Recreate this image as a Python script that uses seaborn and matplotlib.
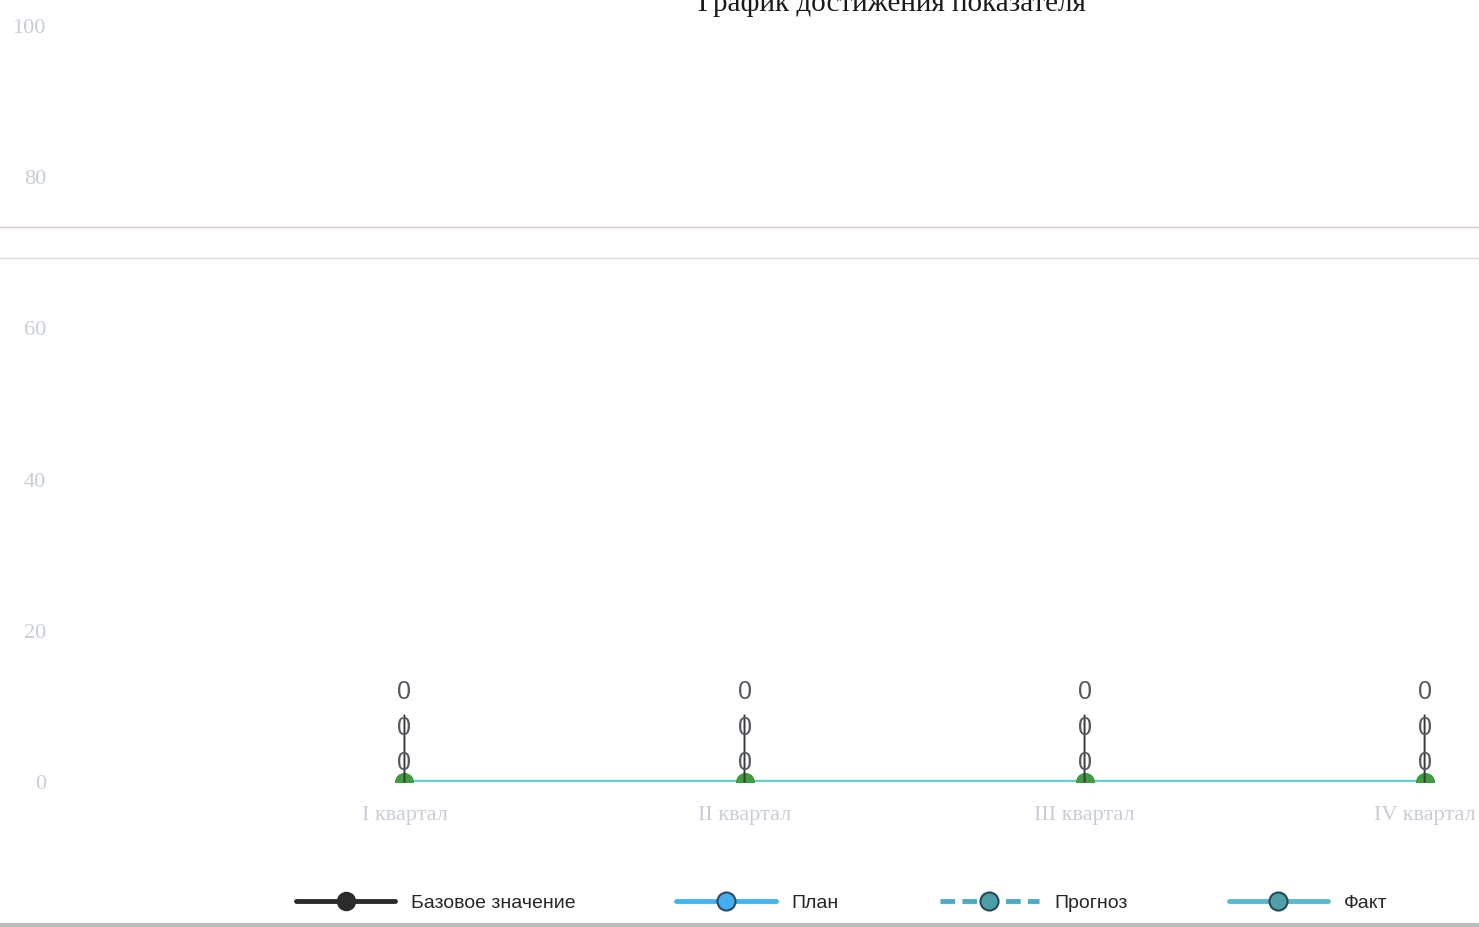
import matplotlib
matplotlib.use('Agg')
import matplotlib.pyplot as plt
import seaborn as sns
import pandas as pd
from matplotlib.lines import Line2D

# Данные графика
kvartaly = ['I квартал', 'II квартал', 'III квартал', 'IV квартал']
bazovoe = [0, 0, 0, 0]
plan = [0, 0, 0, 0]
prognoz = [0, 0, 0, 0]
fakt = [0, 0, 0, 0]
y_ticks = [0, 20, 40, 60, 80, 100]

df = pd.DataFrame({'kvartal': range(len(kvartaly)), 'fakt': fakt})

sns.set_theme(style='white')
plt.rcParams['font.family'] = ['Liberation Serif', 'DejaVu Serif']

fig = plt.figure(figsize=(14.79, 9.27), dpi=100)
ax = fig.add_axes([0.047, 0.1564, 0.953, 0.8155])

# линия факта + зелёные маркеры
sns.lineplot(data=df, x='kvartal', y='fakt', ax=ax, color='#62d2d2', lw=3.2,
             marker='o', markersize=13, markerfacecolor='#3f9c3f',
             markeredgecolor='#3f9c3f', legend=False)

# подписи значений (сдвинуты вверх друг над другом)
for i in range(len(kvartaly)):
    ax.annotate('', xy=(i, fakt[i]), xytext=(0, 48), textcoords='offset points',
                arrowprops=dict(arrowstyle='-', color='#3a3a3a', lw=1.4,
                                shrinkA=0, shrinkB=0))
    for val, off in [(bazovoe[i], 14), (plan[i], 39), (prognoz[i], 65)]:
        ax.annotate(str(val), xy=(i, val), xytext=(0, off), textcoords='offset points',
                    ha='center', va='center', fontsize=18, color='#555a60',
                    family=['Liberation Sans', 'DejaVu Sans'])

ax.set_xlim(-0.985, 3.16)
ax.set_ylim(0, 100)
ax.set_xticks(range(len(kvartaly)))
ax.set_xticklabels(kvartaly)
ax.set_yticks(y_ticks)
ax.set_xlabel('')
ax.set_ylabel('')
for s in ax.spines.values():
    s.set_visible(False)
ax.tick_params(axis='both', colors='#d4d8de', labelcolor='#c8cdd5', labelsize=16,
               length=6, width=1, direction='out')
ax.tick_params(axis='y', pad=11)
ax.tick_params(axis='x', pad=11)

fig.text(0.603, 0.988, 'График достижения показателя', ha='center', va='baseline',
         fontsize=21, color='#1a1a1a')

# полосы скана
fig.add_artist(Line2D([0, 1], [1 - 227 / 927, 1 - 227 / 927], color='#e2c4cc', lw=1))
fig.add_artist(Line2D([0, 1], [1 - 258 / 927, 1 - 258 / 927], color='#dcdcdc', lw=1))
fig.add_artist(Line2D([0, 1], [1 - 925 / 927, 1 - 925 / 927], color='#bdbdbd', lw=3))

handles = [
    Line2D([], [], color='#2b2b2b', lw=3.5, marker='o', markersize=13,
           markerfacecolor='#2b2b2b', markeredgecolor='#2b2b2b'),
    Line2D([], [], color='#45b4ee', lw=3.5, marker='o', markersize=13,
           markerfacecolor='#45aef0', markeredgecolor='#2d4a60', markeredgewidth=1.5),
    Line2D([], [], color='#4fa8c4', lw=3.5, ls=(0, (3, 1.5)), marker='o', markersize=13,
           markerfacecolor='#4a9ea8', markeredgecolor='#274a52', markeredgewidth=1.5),
    Line2D([], [], color='#5db8cc', lw=3.5, marker='o', markersize=13,
           markerfacecolor='#4fa0a8', markeredgecolor='#274a52', markeredgewidth=1.5),
]
labels = ['Базовое значение', 'План', 'Прогноз', 'Факт']
fig.legend(handles, labels, loc='center', bbox_to_anchor=(0.569, 0.026), ncol=4,
           frameon=False, handlelength=5.1, handletextpad=0.8,
           columnspacing=5.2, prop={'family': ['Liberation Sans', 'DejaVu Sans'], 'size': 14})

fig.savefig('out.png', dpi=100)
